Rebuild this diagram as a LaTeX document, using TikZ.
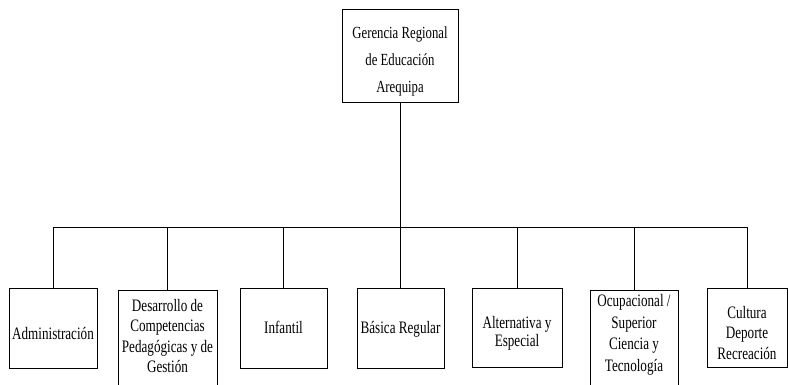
\documentclass[tikz,border=0pt]{standalone}
\usepackage{fontspec}
\setmainfont{Liberation Serif}[FakeStretch=0.75]
\begin{document}
\begin{tikzpicture}[x=1pt,y=-1pt,
  box/.style={draw=black, line width=1pt, rectangle, inner sep=0pt, fill=white},
  lbl/.style={align=center, inner sep=0pt, font=\fontsize{17.5}{20.5}\selectfont},
  conn/.style={draw=black, line width=1pt}]
\useasboundingbox (0,0) rectangle (788,384);
\clip (0,0) rectangle (788,384);
% top
\node[box, minimum width=116pt, minimum height=93pt] (top) at (400,55.5) {};
\node[lbl, font=\fontsize{17}{27}\selectfont] (topt) at (400,61) {Gerencia Regional\\de Educación\\Arequipa};
% bottom boxes
\node[box, minimum width=88pt, minimum height=80pt] (adm) at (53,328) {};
\node[lbl] (admt) at (53,333) {Administración};
\node[box, minimum width=99pt, minimum height=110pt] (des) at (167.5,345) {};
\node[lbl] (dest) at (167.5,336) {Desarrollo de\\Competencias\\Pedagógicas y de\\Gestión};
\node[box, minimum width=87pt, minimum height=80pt] (inf) at (283.5,328) {};
\node[lbl] (inft) at (283.5,327) {Infantil};
\node[box, minimum width=87pt, minimum height=80pt] (bas) at (400.5,328) {};
\node[lbl] (bast) at (400.5,329) {Básica Regular};
\node[box, minimum width=90pt, minimum height=79pt] (alt) at (517,327.5) {};
\node[lbl, font=\fontsize{17.5}{18}\selectfont] (altt) at (517,333) {Alternativa y\\Especial};
\node[box, minimum width=88pt, minimum height=110pt] (ocu) at (634,345) {};
\node[lbl, font=\fontsize{17.5}{21.5}\selectfont] (ocut) at (634,335) {Ocupacional /\\Superior\\Ciencia y\\Tecnología};
\node[box, minimum width=80pt, minimum height=79pt] (cul) at (747,327.5) {};
\node[lbl] (cult) at (747,333) {Cultura\\Deporte\\Recreación};
% connectors
\coordinate (bus) at (400,227);
\draw[conn] (top.south) -- (top.south |- bus);
\draw[conn] (adm.north) -- (adm.north |- bus) -- (cul.north |- bus) -- (cul.north);
\foreach \n in {des,inf,bas,alt,ocu}
  \draw[conn] (\n.north) -- (\n.north |- bus);
\end{tikzpicture}
\end{document}
